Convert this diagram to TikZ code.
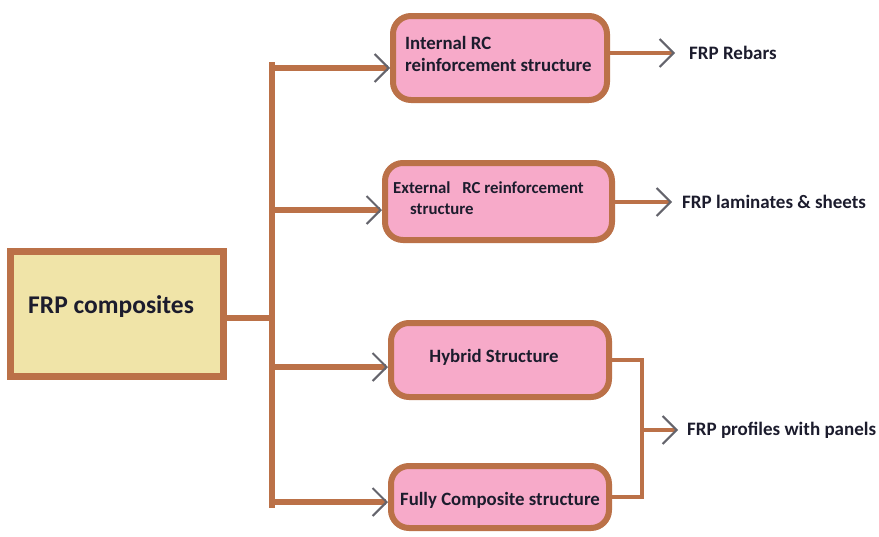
\documentclass[tikz,border=0pt]{standalone}
\usepackage{fontspec}
\setmainfont{Carlito}
\usetikzlibrary{arrows.meta}

\definecolor{frpbrown}{RGB}{187,113,72}
\definecolor{frppink}{RGB}{247,170,201}
\definecolor{frpyellow}{RGB}{240,228,168}
\definecolor{frpgray}{RGB}{100,100,108}
\definecolor{frptext}{RGB}{28,28,45}

\begin{document}
\begin{tikzpicture}[x=1pt,y=-1pt,
  rootbox/.style={draw=frpbrown, line width=7pt, fill=frpyellow,
    minimum width=213pt, minimum height=125pt, inner sep=0pt},
  typebox/.style={draw=frpbrown, line width=6pt, fill=frppink,
    rounded corners=18pt, inner sep=0pt},
  boxtext/.style={font=\bfseries\fontsize{18.8}{22.5}\selectfont, text=frptext,
    inner sep=0pt, align=left},
  labeltext/.style={font=\bfseries\fontsize{19}{22}\selectfont, text=frptext,
    inner sep=0pt, anchor=west},
  barb/.tip={Straight Barb[length=14pt, width=28pt, line width=2pt, color=frpgray]},
  trunkline/.style={draw=frpbrown, line width=5.5pt},
  feed/.style={trunkline, -barb},
  outline/.style={draw=frpbrown, line width=3.5pt},
  outarrow/.style={outline, -barb}
]
\useasboundingbox (0,0) rectangle (879,536);

% root box
\node[rootbox] (comp) at (117,314) {};
\node[font=\bfseries\fontsize{25.5}{30}\selectfont, text=frptext, inner sep=0pt,
  anchor=west] (compt) at (28,307) {FRP composites};

% structure boxes
\node[typebox, minimum width=214pt, minimum height=84pt] (b1) at (500,58) {};
\node[typebox, minimum width=227pt, minimum height=77pt] (b2) at (498.5,201.5) {};
\node[typebox, minimum width=218pt, minimum height=74pt] (b3) at (500,360) {};
\node[typebox, minimum width=218pt, minimum height=62pt] (b4) at (500,497) {};

\node[boxtext, anchor=west] (b1t) at (405,54) {Internal RC\\reinforcement structure};
\node[boxtext, anchor=west, font=\bfseries\fontsize{16.8}{21}\selectfont]
  (b2t) at (393,198) {External\hspace{8pt} RC reinforcement\\\hspace*{17pt}structure};
\node[boxtext] (b3t) at (494,357) {Hybrid Structure};
\node[boxtext] (b4t) at (500,500) {Fully Composite structure};

% trunk from the root box to the four structures
\coordinate (ttop) at (272,62);
\coordinate (tbot) at (272,508);
\coordinate (jc) at (272,318);
\coordinate (j1) at (272,68);
\coordinate (j2) at (272,210);
\coordinate (j3) at (272,367);
\coordinate (j4) at (272,502);

\draw[trunkline] (ttop) -- (tbot);
\draw[trunkline] (jc -| comp.east) -- (jc);
\draw[feed] (j1) -- (j1 -| b1.west);
\draw[feed] (j2) -- (j2 -| b2.west);
\draw[feed] (j3) -- (j3 -| b3.west);
\draw[feed] (j4) -- (j4 -| b4.west);

% outputs
\coordinate (o1) at (675,53);
\coordinate (o2) at (672,202);
\coordinate (m) at (642,430);
\coordinate (o3) at (678,430);

\draw[outarrow] (o1 -| b1.east) -- (o1);
\draw[outarrow] (o2 -| b2.east) -- (o2);
\draw[outline] (b3.east) -| (m |- b4.east) -- (b4.east);
\draw[outarrow] (m) -- (o3);

\node[labeltext] (r1) at (689,53) {FRP Rebars};
\node[labeltext] (r2) at (682,202) {FRP laminates \& sheets};
\node[labeltext] (r3) at (687,430) {FRP profiles with panels};
\end{tikzpicture}
\end{document}
